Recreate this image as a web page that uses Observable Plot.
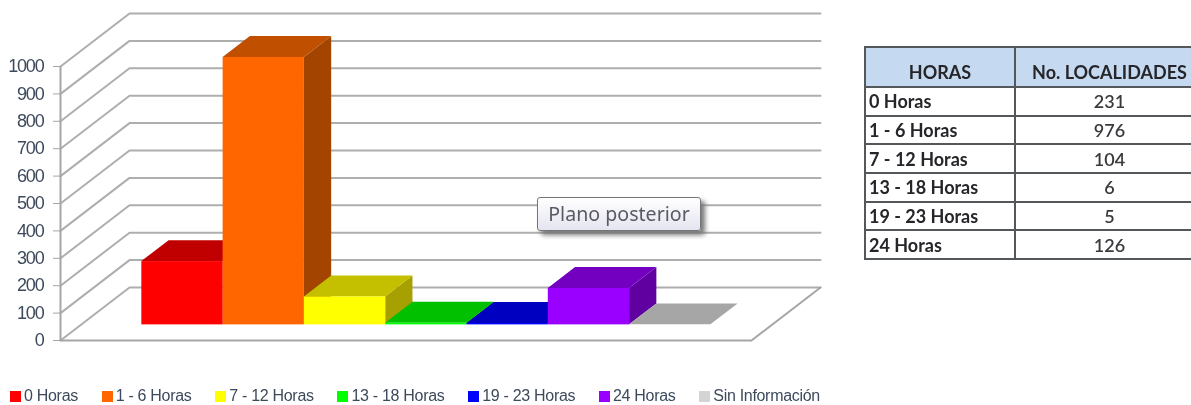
<!DOCTYPE html>
<html lang="es">
<head>
<meta charset="utf-8">
<title>Localidades por horas</title>
<script src="https://cdn.jsdelivr.net/npm/d3@7"></script>
<script src="https://cdn.jsdelivr.net/npm/@observablehq/plot@0.6"></script>
<style>
  html,body{margin:0;padding:0;background:#fff;overflow:hidden}
  #page{position:relative;width:1191px;height:405px;overflow:hidden;filter:blur(.4px)}
  #chart{position:absolute;left:0;top:0}
  #chart svg text{letter-spacing:-1.2px}
  #legend{position:absolute;left:10px;width:810px;top:387px;display:flex;justify-content:space-between;
    font:16px "Liberation Sans",sans-serif;color:#3d4a5c;line-height:18px;letter-spacing:-.3px}
  #legend span.k{display:inline-block;width:11px;height:11px;margin-right:3px;vertical-align:-1px}
  #tip{position:absolute;left:537px;top:197px;width:164px;height:34px;box-sizing:border-box;border:1px solid #767676;border-radius:3px;
    background:linear-gradient(#fff,#e4e5f0);box-shadow:4px 4px 5px #777;text-align:center;
    font:19.6px/31px "Noto Sans",sans-serif;color:#5a5a66}
  #tbl{position:absolute;left:864px;top:46px;width:341px;border-collapse:collapse;table-layout:fixed;
    font:bold 18px "Lato",sans-serif;color:#26262a}
  #tbl td,#tbl th{border:2px solid #55585b;padding:0;height:26.67px;box-sizing:content-box}
  #tbl th{background:#c5d9f1;height:38px;vertical-align:bottom;line-height:27px;font-weight:bold}
  #tbl td:first-child{padding-left:3px;text-align:left}
  #tbl td:last-child{text-align:center;font-weight:600;color:#3a3a3e}
</style>
</head>
<body>
<div id="page">
  <div id="chart"></div>
  <div id="legend"></div>
  <div id="tip">Plano posterior</div>
  <table id="tbl"></table>
</div>
<script>
// --- data ---
const categories = ["0 Horas","1 - 6 Horas","7 - 12 Horas","13 - 18 Horas","19 - 23 Horas","24 Horas","Sin Información"];
const barValues  = [231,976,102,6,5,133,0];
const frontColors = ["#ff0000","#ff6600","#ffff00","#00ff00","#0000ff","#9900ff","#c8c8c8"];
const topColors   = ["#c00000","#c05000","#c4c000","#00c000","#0000c0","#7300c0","#a6a6a6"];
const sideColors  = ["#a00000","#a34400","#a6a000","#009000","#000090","#6000a0","#808080"];
const legendColors = ["#ff0000","#ff6600","#ffff00","#00ff00","#0000ff","#9900ff","#d4d4d4"];
const yTicks = [0,100,200,300,400,500,600,700,800,900,1000];
const tableHeader = ["HORAS","No. LOCALIDADES"];
const tableHours  = ["0 Horas","1 - 6 Horas","7 - 12 Horas","13 - 18 Horas","19 - 23 Horas","24 Horas"];
const tableCounts = [231,976,104,6,5,126];

// --- oblique 3-D projection expressed in data units ---
const gap = 0.75;                         // category units either side of the bars
const floorEnd = categories.length + 2*gap;
const depthU = 0.849, depthV = 193.4;     // what full depth adds to x (categories) and y (value)
const zFront = 0.295, zBack = 0.69;       // bar depth inside the floor
const U = (u,z) => u + z*depthU;
const V = (v,z) => v + z*depthV;

const grid = yTicks.flatMap(v => [
  {v, x:U(0,0), y:V(v,0)}, {v, x:U(0,1), y:V(v,1)}, {v, x:U(floorEnd,1), y:V(v,1)}
]);
const floorFront = [[0,0],[floorEnd,0],[floorEnd,1]].map(([u,z]) => ({x:U(u,z), y:V(0,z)}));

const bars = categories.map((c,i) => ({i, c, v:barValues[i], u1:gap+i, u2:gap+i+1}));
const sides = bars.flatMap(b => [zFront,zBack].map(z => ({
  i:b.i, fill:sideColors[b.i], x:U(b.u2,z), y1:V(0,z), y2:V(b.v,z)})));
const tops = bars.flatMap(b => [zFront,zBack].map(z => ({
  i:b.i, fill:topColors[b.i], x1:U(b.u1,z), x2:U(b.u2,z), y:V(b.v,z)})));

const chart = Plot.plot({
  width: 830, height: 405,
  marginLeft: 60, marginRight: 10, marginTop: 13, marginBottom: 65,
  style: {background:"transparent", fontFamily:'"Liberation Sans",sans-serif'},
  x: {type:"linear", domain:[0, floorEnd+depthU], axis:null},
  y: {type:"linear", domain:[0, 1000+depthV], label:null},
  color: {type:"identity"},
  marks: [
    Plot.line(grid, {x:"x", y:"y", z:"v", stroke:"#aeaeae", strokeWidth:2}),
    Plot.line(floorFront, {x:"x", y:"y", stroke:"#a6a6a6", strokeWidth:2}),
    Plot.ruleX([0], {y1:0, y2:1000, stroke:"#a6a6a6", strokeWidth:2}),
    Plot.axisY({ticks:yTicks, tickSize:7, tickPadding:10, fontSize:18, color:"#3d4a5c", stroke:"#a6a6a6", label:null, tickFormat:d=>String(d)}),
    Plot.area(sides, {x1:"x", y1:"y1", y2:"y2", z:"i", fill:"fill"}),
    Plot.area(tops, {x1:"x1", x2:"x2", y1:"y", z:"i", fill:"fill"}),
    Plot.rect(bars, {x1:d=>U(d.u1,zFront), x2:d=>U(d.u2,zFront), y1:d=>V(0,zFront), y2:d=>V(d.v,zFront), fill:(d)=>frontColors[d.i]})
  ]
});
document.getElementById("chart").append(chart);

document.getElementById("legend").innerHTML = categories.map((c,i) =>
  `<div><span class="k" style="background:${legendColors[i]}"></span>${c}</div>`).join("");

document.getElementById("tbl").innerHTML =
  `<colgroup><col style="width:150px"><col></colgroup>` +
  `<tr>${tableHeader.map(h=>`<th>${h}</th>`).join("")}</tr>` +
  tableHours.map((h,i)=>`<tr><td>${h}</td><td>${tableCounts[i]}</td></tr>`).join("");
</script>
</body>
</html>
